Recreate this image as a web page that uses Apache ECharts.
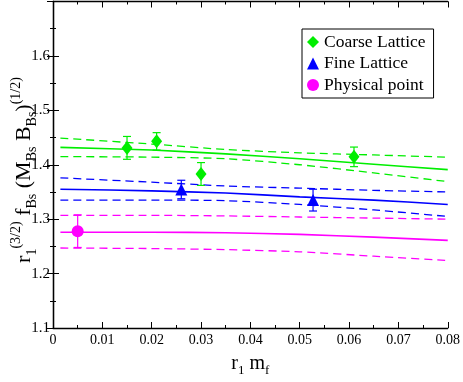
<!DOCTYPE html>
<html>
<head>
<meta charset="utf-8">
<script src="https://cdn.jsdelivr.net/npm/echarts@6/dist/echarts.min.js"></script>
<style>
html,body{margin:0;padding:0;background:#fff;}
#c{width:463px;height:382px;}
</style>
</head>
<body>
<div id="c"></div>
<script>
// ---- data ----
const xFit = [0.0015, 0.02, 0.035, 0.05, 0.065, 0.08];
const coarseFit = [1.432, 1.427, 1.420, 1.411, 1.401, 1.391];
const coarseUp  = [1.449, 1.438, 1.428, 1.422, 1.418, 1.414];
const coarseLo  = [1.415, 1.414, 1.411, 1.400, 1.385, 1.369];
const fineFit = [1.355, 1.352, 1.348, 1.341, 1.335, 1.327];
const fineUp  = [1.376, 1.368, 1.361, 1.357, 1.353, 1.350];
const fineLo  = [1.335, 1.335, 1.334, 1.327, 1.317, 1.305];
const physFit = [1.276, 1.276, 1.275, 1.272, 1.267, 1.261];
const physUp  = [1.307, 1.307, 1.306, 1.304, 1.302, 1.300];
const physLo  = [1.247, 1.246, 1.244, 1.240, 1.232, 1.224];

const coarseX = [0.015, 0.021, 0.030, 0.061];
const coarseY = [1.431, 1.443, 1.383, 1.4145];
const coarseErr = [0.021, 0.016, 0.021, 0.018];
const fineX = [0.026, 0.0527];
const fineY = [1.3545, 1.335];
const fineErr = [0.017, 0.020];
const physX = [0.005];
const physY = [1.278];
const physErr = [0.030];

const xTicks = {min: 0, max: 0.08, interval: 0.01};
const yTicks = {min: 1.1, max: 1.7, interval: 0.1};

// ---- build ----
const GREEN = '#00ee00', BLUE = '#0000ff', MAG = '#ff00ff';
const FONT = "'Liberation Serif', 'Times New Roman', serif";

function pairs(xs, ys) { return xs.map((x, i) => [x, ys[i]]); }

function fitLine(ys, color, dashed) {
  return {
    type: 'line', data: pairs(xFit, ys), smooth: 0.25, showSymbol: false, silent: true,
    lineStyle: {color: color, width: dashed ? 1.3 : 1.6, type: dashed ? [8, 5] : 'solid'},
    z: 2
  };
}

function errBars(xs, ys, es, color) {
  return {
    type: 'custom', silent: true, z: 3,
    data: xs.map((x, i) => [x, ys[i] - es[i], ys[i] + es[i]]),
    renderItem: function (params, api) {
      const lo = api.coord([api.value(0), api.value(1)]);
      const hi = api.coord([api.value(0), api.value(2)]);
      const w = 4;
      const st = {stroke: color, lineWidth: 1.2};
      return {type: 'group', children: [
        {type: 'line', shape: {x1: lo[0], y1: lo[1], x2: hi[0], y2: hi[1]}, style: st},
        {type: 'line', shape: {x1: lo[0] - w, y1: lo[1], x2: lo[0] + w, y2: lo[1]}, style: st},
        {type: 'line', shape: {x1: hi[0] - w, y1: hi[1], x2: hi[0] + w, y2: hi[1]}, style: st}
      ]};
    }
  };
}

const axisCommon = {
  axisLine: {show: true, lineStyle: {color: '#000', width: 1.3}},
  axisTick: {show: true, inside: true, length: 6, lineStyle: {color: '#000'}},
  minorTick: {show: true, splitNumber: 2, length: 3, lineStyle: {color: '#000'}},
  splitLine: {show: false},
  minorSplitLine: {show: false}
};

const chart = echarts.init(document.getElementById('c'));
chart.setOption({
  animation: false,
  backgroundColor: '#fff',
  grid: {left: 53, right: 13, top: 1.5, bottom: 42.5},
  xAxis: [
    Object.assign({type: 'value', position: 'bottom', min: xTicks.min, max: xTicks.max, interval: xTicks.interval,
      axisLabel: {color: '#000', fontFamily: FONT, fontSize: 14, margin: 5},
      name: '{m|r}{sub|1}{m| m}{sub|f}', nameLocation: 'middle', nameGap: 23,
      nameTextStyle: {rich: {
        m: {fontFamily: FONT, fontSize: 20, color: '#000', lineHeight: 26, verticalAlign: 'middle'},
        sub: {fontFamily: FONT, fontSize: 13, color: '#000', lineHeight: 13, verticalAlign: 'bottom'}
      }}
    }, axisCommon),
    Object.assign({type: 'value', position: 'top', min: xTicks.min, max: xTicks.max, interval: xTicks.interval,
      axisLabel: {show: false}}, axisCommon)
  ],
  yAxis: [
    Object.assign({type: 'value', position: 'left', min: yTicks.min, max: yTicks.max, interval: yTicks.interval,
      axisLabel: {color: '#000', fontFamily: FONT, fontSize: 15, margin: 3, showMaxLabel: false}}, axisCommon),
    Object.assign({type: 'value', position: 'right', min: yTicks.min, max: yTicks.max, interval: yTicks.interval,
      axisLabel: {show: false}}, axisCommon)
  ],
  legend: {
    data: ['Coarse Lattice', 'Fine Lattice', 'Physical point'],
    orient: 'vertical', left: 302, top: 29,
    padding: [3, 8, 3, 5],
    itemWidth: 12, itemHeight: 12, itemGap: 1.5, itemTextGap: 11,
    borderColor: '#000', borderWidth: 1, backgroundColor: '#fff',
    textStyle: {fontFamily: FONT, fontSize: 17.5, color: '#000', lineHeight: 20}
  },
  graphic: [{
    type: 'text', x: 24, y: 170, rotation: Math.PI / 2,
    style: {
      text: '{m|r}{sub|1}{sup|(3/2)}{m| f}{sub|Bs}{m| (M}{sub|Bs}{m| B}{sub|Bs}{m|)}{sup|(1/2)}',
      align: 'center', verticalAlign: 'middle',
      rich: {
        m: {fontFamily: FONT, fontSize: 22, fill: '#000', lineHeight: 30, verticalAlign: 'middle'},
        sub: {fontFamily: FONT, fontSize: 14, fill: '#000', lineHeight: 14, verticalAlign: 'bottom'},
        sup: {fontFamily: FONT, fontSize: 14, fill: '#000', lineHeight: 14, verticalAlign: 'top'}
      }
    }
  }],
  series: [
    fitLine(coarseFit, GREEN, false), fitLine(coarseUp, GREEN, true), fitLine(coarseLo, GREEN, true),
    fitLine(fineFit, BLUE, false), fitLine(fineUp, BLUE, true), fitLine(fineLo, BLUE, true),
    fitLine(physFit, MAG, false), fitLine(physUp, MAG, true), fitLine(physLo, MAG, true),
    errBars(coarseX, coarseY, coarseErr, GREEN),
    errBars(fineX, fineY, fineErr, BLUE),
    errBars(physX, physY, physErr, MAG),
    {name: 'Coarse Lattice', type: 'scatter', data: pairs(coarseX, coarseY), symbol: 'diamond', symbolSize: [11, 14],
      itemStyle: {color: GREEN, opacity: 1}, z: 4},
    {name: 'Fine Lattice', type: 'scatter', data: pairs(fineX, fineY), symbol: 'triangle', symbolSize: 12,
      itemStyle: {color: BLUE, opacity: 1}, z: 4},
    {name: 'Physical point', type: 'scatter', data: pairs(physX, physY), symbol: 'circle', symbolSize: 12,
      itemStyle: {color: MAG, opacity: 1}, z: 4}
  ]
});
</script>
</body>
</html>
